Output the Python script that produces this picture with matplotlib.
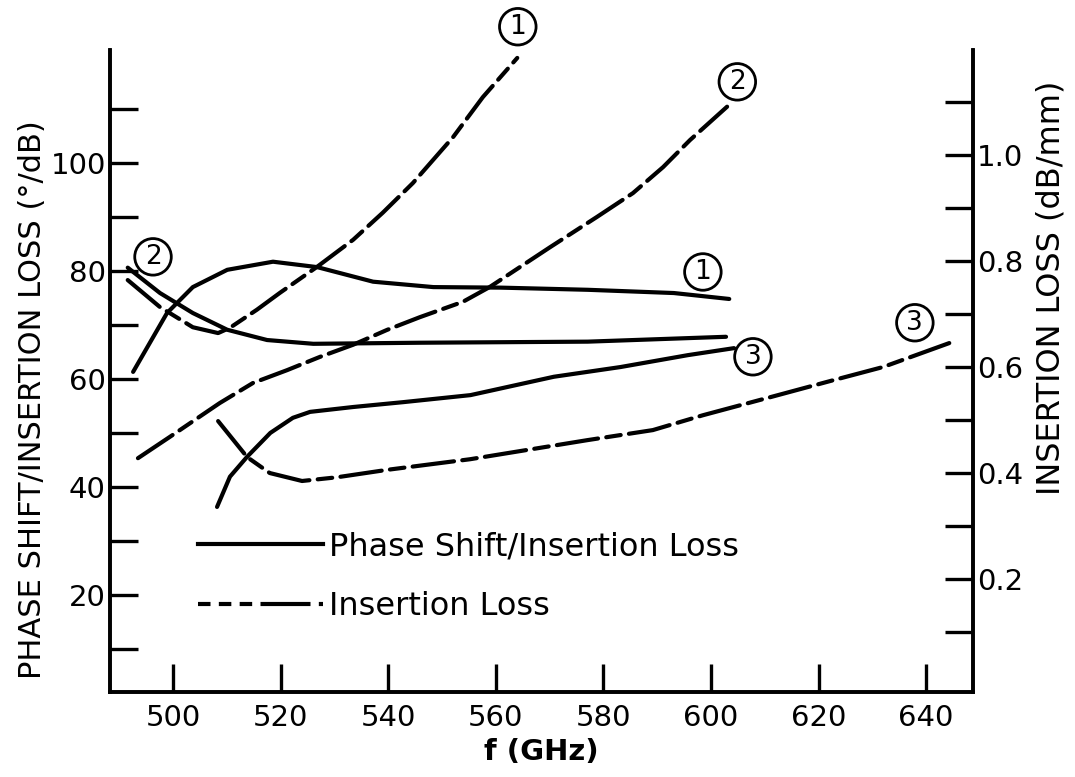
import matplotlib
matplotlib.use("Agg")
import matplotlib.pyplot as plt
from matplotlib.lines import Line2D

# phase shift / insertion loss (deg/dB), left axis
f_ps1 = [492.6, 498.9, 503.7, 510.1, 518.6, 526.8, 537.2, 548.4, 560.9, 577.1, 593.1, 603.4]
ps1 = [61.3, 72.2, 77.0, 80.2, 81.7, 80.7, 78.0, 77.0, 76.9, 76.5, 75.9, 74.8]

f_ps2 = [491.6, 497.6, 503.7, 510.1, 517.5, 526.1, 546.0, 577.1, 602.8]
ps2 = [80.6, 75.9, 72.2, 69.1, 67.2, 66.5, 66.7, 66.9, 67.8]

f_ps3 = [508.2, 510.6, 513.8, 518.1, 522.3, 525.5, 533.5, 542.8, 555.3, 570.8, 583.2, 595.7, 604.3]
ps3 = [36.3, 41.9, 45.6, 50.0, 52.8, 53.9, 54.8, 55.7, 57.0, 60.4, 62.2, 64.4, 65.7]

# insertion loss (dB/mm), right axis
f_il1 = [491.6, 497.6, 503.7, 508.4, 510.6, 515.6, 519.9, 526.8, 533.5, 539.0, 544.6, 552.1, 557.6, 564.0]
il1 = [0.764, 0.713, 0.675, 0.664, 0.674, 0.708, 0.740, 0.789, 0.840, 0.891, 0.947, 1.034, 1.109, 1.183]

f_il2 = [493.5, 499.4, 508.7, 514.9, 521.2, 527.3, 533.5, 539.8, 545.9, 553.9, 558.9,
         570.1, 578.8, 585.5, 591.1, 596.1, 603.0]
il2 = [0.428, 0.468, 0.532, 0.570, 0.594, 0.619, 0.642, 0.670, 0.694, 0.723, 0.751,
       0.826, 0.883, 0.928, 0.977, 1.028, 1.091]

f_il3 = [508.4, 513.8, 518.0, 524.0, 530.5, 539.8, 555.2, 577.0, 589.2, 598.5, 611.0, 622.7, 632.0, 644.8]
il3 = [0.498, 0.430, 0.400, 0.385, 0.392, 0.406, 0.426, 0.462, 0.481, 0.509, 0.543, 0.575, 0.600, 0.647]

x_ticks = [500, 520, 540, 560, 580, 600, 620, 640]
left_major = [20, 40, 60, 80, 100]
left_minor = [10, 30, 50, 70, 90, 110]
right_major = [0.2, 0.4, 0.6, 0.8, 1.0]
right_minor = [0.1, 0.3, 0.5, 0.7, 0.9, 1.1]

# curve tags: (text, freq, left-axis value)
tags = [("1", 564.1, 125.2), ("2", 604.9, 115.0), ("2", 496.3, 82.6),
        ("1", 598.5, 79.8), ("3", 607.8, 64.1), ("3", 637.9, 70.4)]

plt.rcParams['font.family'] = ['DejaVu Sans']
LW = 3.0
DASH = (0, (10, 2, 3.5, 2))

fig = plt.figure(figsize=(10.75, 7.77), dpi=100)
ax = fig.add_axes([0.1023, 0.1094, 0.8028, 0.8263])
ax2 = ax.twinx()

ax.set_xlim(488.3, 648.7)
ax.set_ylim(2.04, 120.9)
ax2.set_ylim(-0.013, 1.198)

kw = dict(color='black', lw=LW, solid_capstyle='round', solid_joinstyle='round')
ax.plot(f_ps1, ps1, **kw)
ax.plot(f_ps2, ps2, **kw)
ax.plot(f_ps3, ps3, **kw)

dkw = dict(color='black', lw=LW, linestyle=DASH, dash_capstyle='round')
ax2.plot(f_il1, il1, **dkw)
ax2.plot(f_il2, il2, **dkw)
ax2.plot(f_il3, il3, **dkw)

for a in (ax, ax2):
    a.spines['top'].set_visible(False)
    for s in a.spines.values():
        s.set_linewidth(2.6)

ax.set_xticks(x_ticks)
ax.set_yticks(left_major)
ax.set_yticks(left_minor, minor=True)
ax.tick_params(axis='x', direction='in', length=20, width=2.4, pad=9, labelsize=21)
ax.tick_params(axis='y', which='both', direction='in', length=20, width=2.4, pad=3, labelsize=21)
ax.tick_params(axis='y', which='minor', labelleft=False)

ax2.set_yticks(right_major)
ax2.set_yticks(right_minor, minor=True)
ax2.set_yticklabels([f"{v:.1f}" for v in right_major])
ax2.tick_params(axis='y', which='both', direction='in', length=20, width=2.4, pad=3, labelsize=21)
ax2.tick_params(axis='y', which='minor', labelright=False)

ax.set_xlabel("f (GHz)", fontsize=21, fontweight='bold', labelpad=4)
ax.set_ylabel("PHASE SHIFT/INSERTION LOSS (°/dB)", fontsize=22)
ax.yaxis.set_label_coords(-0.073, 0.455)
ax2.set_ylabel("INSERTION LOSS (dB/mm)", fontsize=23)
ax2.yaxis.set_label_coords(1.073, 0.63)

for txt, fx, fy in tags:
    ax.text(fx, fy, txt, fontsize=19, ha='center', va='center', clip_on=False,
            bbox=dict(boxstyle='circle,pad=0.2', fc='white', ec='black', lw=2))

handles = [Line2D([], [], color='black', lw=LW),
           Line2D([], [], color='black', lw=LW, linestyle=(0, (3, 2, 3, 2, 3, 2, 9, 0)))]
ax.legend(handles, ["Phase Shift/Insertion Loss", "Insertion Loss"],
          loc='upper left', bbox_to_anchor=(0.084, 0.275), frameon=False,
          fontsize=23, handlelength=3.9, handletextpad=0.2, labelspacing=0.9,
          borderpad=0)

fig.savefig("out.png", dpi=100, facecolor='white')
